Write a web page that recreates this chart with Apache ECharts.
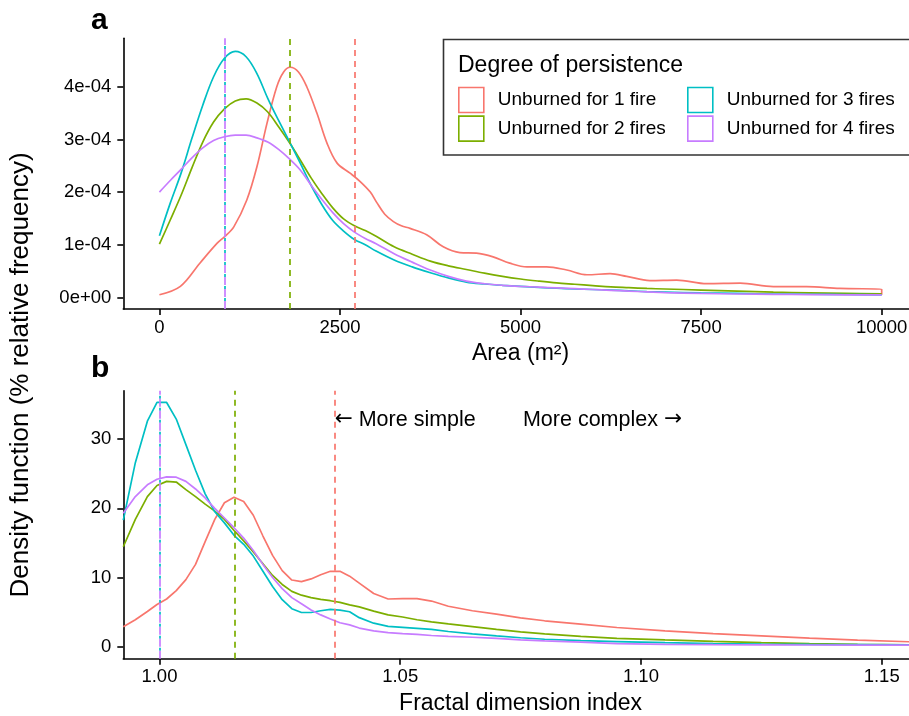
<!DOCTYPE html>
<html><head><meta charset="utf-8">
<script src="https://cdn.jsdelivr.net/npm/echarts@6/dist/echarts.min.js"></script>
<style>html,body{margin:0;padding:0;background:#fff}#chart{width:909px;height:716px}</style>
</head><body><div id="chart"></div>
<script>
// ---------- data ----------
const groups = ['Unburned for 1 fire', 'Unburned for 2 fires', 'Unburned for 3 fires', 'Unburned for 4 fires'];
const colors = ['#F8766D', '#7CAE00', '#00BFC4', '#C77CFF'];

// panel a: density of patch area (values in units of 1e-4)
const densityUnit = 1e-4;
const areaX = [0,150,300,450,600,750,900,1050,1200,1350,1500,1650,1800,1950,2100,2250,2400,2550,2700,2850,3000,3250,3500,3750,4000,4250,4500,4750,5000,5250,5500,5750,6000,6250,6500,6750,7000,7500,8000,8500,9000,9500,10000];
const areaGreen = [1.01,1.47,1.94,2.46,2.95,3.33,3.58,3.73,3.77,3.69,3.52,3.24,2.94,2.61,2.27,1.97,1.70,1.49,1.36,1.27,1.16,0.96,0.82,0.69,0.60,0.53,0.46,0.40,0.35,0.31,0.275,0.25,0.225,0.20,0.185,0.17,0.16,0.14,0.12,0.10,0.088,0.077,0.066];
const areaCyan = [1.17,1.79,2.36,3.02,3.65,4.19,4.54,4.67,4.57,4.25,3.78,3.36,2.96,2.55,2.13,1.76,1.46,1.26,1.10,1.00,0.88,0.71,0.58,0.47,0.37,0.29,0.255,0.23,0.21,0.19,0.175,0.16,0.15,0.14,0.125,0.11,0.10,0.085,0.075,0.065,0.06,0.055,0.05];
const areaPurple = [2.0,2.22,2.43,2.65,2.84,2.98,3.05,3.08,3.08,3.03,2.95,2.81,2.63,2.42,2.13,1.86,1.61,1.40,1.24,1.12,1.02,0.83,0.67,0.52,0.40,0.31,0.26,0.23,0.21,0.195,0.18,0.165,0.15,0.135,0.12,0.105,0.09,0.075,0.065,0.058,0.054,0.05,0.05];
const areaXRed = [0,290,560,800,900,1030,1210,1350,1490,1625,1720,1810,1925,2040,2180,2320,2460,2640,2780,2920,3010,3120,3240,3350,3470,3700,3930,4160,4390,4620,4850,5090,5360,5640,5920,6240,6470,6790,7160,7580,8040,8500,8960,9420,10000,10000];
const areaRed = [0.05,0.21,0.65,1.03,1.15,1.34,1.85,2.48,3.31,4.00,4.28,4.37,4.28,4.00,3.50,2.93,2.55,2.36,2.20,2.00,1.80,1.58,1.44,1.36,1.31,1.19,0.96,0.85,0.84,0.77,0.65,0.58,0.58,0.52,0.43,0.45,0.40,0.32,0.33,0.26,0.27,0.205,0.205,0.17,0.155,0.05];
const areaMeans = [2700, 1800, 900, 900];

// panel b: density of fractal dimension index (%)
const fdiX = [0.9925,0.9950,0.9975,0.9995,1.0015,1.0035,1.0055,1.0075,1.0095,1.0115,1.0135,1.0155,1.0175,1.0195,1.0215,1.0235,1.0255,1.0275,1.0295,1.0315,1.0335,1.0355,1.0375,1.0395,1.0415,1.0445,1.0475,1.0505,1.0535,1.0565,1.0600,1.0650,1.0700,1.0750,1.0800,1.0875,1.0950,1.1050,1.1150,1.1250,1.1350,1.1450,1.1575];
const fdiRed = [2.9,3.9,5.1,6.1,6.9,8.1,9.7,11.9,15.2,18.4,20.8,21.6,21.0,19.0,16.0,13.2,11.0,9.64,9.4,9.8,10.4,10.9,10.9,10.2,9.2,7.7,6.9,6.95,6.95,6.6,5.85,5.2,4.7,4.18,3.75,3.27,2.78,2.28,1.90,1.58,1.25,0.95,0.68];
const fdiGreen = [14.45,18.4,21.7,23.3,23.9,23.8,22.7,21.7,20.6,19.6,18.4,16.8,15.3,13.7,12.0,10.3,9.0,8.0,7.45,7.1,6.85,6.65,6.4,6.05,5.75,5.15,4.6,4.3,3.9,3.6,3.3,2.9,2.5,2.16,1.85,1.5,1.22,0.98,0.78,0.6,0.45,0.34,0.24];
const fdiCyan = [18.3,26.6,32.6,35.3,35.3,32.9,29.2,25.5,22.1,19.5,17.9,16.1,14.8,13.1,10.9,8.7,6.8,5.5,4.95,4.95,5.2,5.4,5.3,5.06,4.2,3.4,2.95,2.8,2.65,2.5,2.2,1.85,1.56,1.30,1.08,0.88,0.75,0.58,0.46,0.38,0.33,0.29,0.26];
const fdiPurple = [19.3,21.7,23.4,24.2,24.55,24.5,23.9,22.8,21.5,20.0,18.6,17.2,15.7,13.9,11.9,10.0,8.4,7.1,6.2,5.3,4.6,4.0,3.47,3.15,2.7,2.3,2.05,1.88,1.78,1.62,1.5,1.37,1.2,1.0,0.85,0.67,0.45,0.34,0.3,0.27,0.25,0.24,0.23];
const fdiMeans = [1.0364, 1.0157, 1.0000, 1.0000];

// annotations (panel b)
const annotX = [1.0364, 1.0755];
const annotY = [32.8, 32.8];
const annotText = ['{arr|\u2190} More simple', 'More complex {arr|\u2192}'];

// tick values / labels
const areaTicks = [0, 2500, 5000, 7500, 10000];
const areaTickLabels = ['0', '2500', '5000', '7500', '10000'];
const densityTicks = [0, 1e-4, 2e-4, 3e-4, 4e-4];
const densityTickLabels = ['0e+00', '1e-04', '2e-04', '3e-04', '4e-04'];
const fdiTicks = [1.00, 1.05, 1.10, 1.15];
const fdiTickLabels = ['1.00', '1.05', '1.10', '1.15'];
const pctTicks = [0, 10, 20, 30];
const pctTickLabels = ['0', '10', '20', '30'];

// ---------- chart ----------
const FONT = "'Liberation Sans', Arial, Helvetica, sans-serif";
const chart = echarts.init(document.getElementById('chart'), null, {renderer: 'canvas'});

function labelFor(ticks, labels) {
  return function (v) {
    let best = 0;
    for (let i = 1; i < ticks.length; i++) if (Math.abs(ticks[i] - v) < Math.abs(ticks[best] - v)) best = i;
    return labels[best];
  };
}
const axisLineStyle = {color: '#000', width: 1.6};
function xAxisCfg(gridIndex, min, max, ticks, labels, name) {
  return {
    type: 'value', gridIndex, min, max,
    axisLine: {show: true, onZero: false, lineStyle: axisLineStyle},
    axisTick: {show: true, length: 6, customValues: ticks, lineStyle: axisLineStyle},
    axisLabel: {customValues: ticks, formatter: labelFor(ticks, labels), fontSize: 18.5, color: '#000', margin: 9, fontFamily: FONT},
    splitLine: {show: false},
    name, nameLocation: 'middle', nameGap: 33,
    nameTextStyle: {fontSize: 23, color: '#000', fontFamily: FONT}
  };
}
function yAxisCfg(gridIndex, min, max, ticks, labels) {
  return {
    type: 'value', gridIndex, min, max,
    axisLine: {show: true, onZero: false, lineStyle: axisLineStyle},
    axisTick: {show: true, length: 6, customValues: ticks, lineStyle: axisLineStyle},
    axisLabel: {customValues: ticks, formatter: labelFor(ticks, labels), fontSize: 18.5, color: '#000', margin: 12, fontFamily: FONT},
    splitLine: {show: false}
  };
}

const areaSeriesY = [null, areaGreen, areaCyan, areaPurple];
const fdiSeriesY = [fdiRed, fdiGreen, fdiCyan, fdiPurple];
const meanDash = [
  {type: [6, 5], dashOffset: 0},
  {type: [6, 5], dashOffset: 0},
  {type: [3, 9], dashOffset: -8},
  {type: [8, 4], dashOffset: 0}
];
function meanLine(k, value) {
  return {
    silent: true, symbol: ['none', 'none'], label: {show: false}, precision: 8,
    lineStyle: Object.assign({color: colors[k], width: 1.7}, meanDash[k]),
    emphasis: {disabled: true},
    data: [{xAxis: value}]
  };
}

const series = [];
groups.forEach((g, k) => {
  let data;
  if (k === 0) data = areaXRed.map((x, i) => [x, areaRed[i] * densityUnit]);
  else data = areaX.map((x, i) => [x, areaSeriesY[k][i] * densityUnit]);
  series.push({
    name: g, type: 'line', xAxisIndex: 0, yAxisIndex: 0, data,
    showSymbol: false, smooth: 0.35, color: colors[k],
    lineStyle: {width: 1.7, color: colors[k]},
    silent: true, z: 2,
    markLine: meanLine(k, areaMeans[k])
  });
});
groups.forEach((g, k) => {
  series.push({
    name: g, type: 'line', xAxisIndex: 1, yAxisIndex: 1,
    data: fdiX.map((x, i) => [x, fdiSeriesY[k][i]]),
    showSymbol: false, smooth: false, color: colors[k],
    lineStyle: {width: 1.7, color: colors[k]},
    silent: true, z: 2,
    markLine: meanLine(k, fdiMeans[k])
  });
});
series.push({
  type: 'scatter', xAxisIndex: 1, yAxisIndex: 1, silent: true,
  symbolSize: 0, itemStyle: {opacity: 1, color: '#000'},
  data: annotX.map((x, i) => [x, annotY[i]]),
  label: {
    show: true, position: 'inside', align: 'left', verticalAlign: 'middle', opacity: 1,
    fontSize: 21.5, color: '#000', fontFamily: FONT, textBorderWidth: 0,
    rich: {arr: {fontFamily: "'DejaVu Sans', sans-serif", fontSize: 21.5, color: '#000', textBorderWidth: 0}},
    formatter: p => annotText[p.dataIndex]
  },
  emphasis: {disabled: true}
});

const legendCommon = {
  orient: 'vertical', top: 86.7, padding: 0, itemWidth: 25, itemHeight: 25, itemGap: 2,
  icon: 'rect', selectedMode: false,
  itemStyle: {color: '#ffffff', borderWidth: 1.6},
  textStyle: {fontSize: 19, color: '#000', fontFamily: FONT, padding: [0, 0, 0, 9]}
};
const legendItem = k => ({name: groups[k], itemStyle: {color: '#ffffff', borderColor: colors[k], borderWidth: 1.6}});

const option = {
  animation: false,
  backgroundColor: '#ffffff',
  textStyle: {fontFamily: FONT},
  grid: [
    {left: 123.3, top: 38.3, width: 794.5, height: 270.7, outerBoundsMode: 'none', containLabel: false},
    {left: 123.3, top: 390.7, width: 794.5, height: 268, outerBoundsMode: 'none', containLabel: false}
  ],
  xAxis: [
    xAxisCfg(0, -500, 10500, areaTicks, areaTickLabels, 'Area (m\u00B2)'),
    xAxisCfg(1, 0.9925, 1.1575, fdiTicks, fdiTickLabels, 'Fractal dimension index')
  ],
  yAxis: [
    yAxisCfg(0, -0.22e-4, 4.92e-4, densityTicks, densityTickLabels),
    yAxisCfg(1, -1.73, 37.0, pctTicks, pctTickLabels)
  ],
  title: [
    {text: 'a', left: 91, top: 6, padding: 0, textStyle: {fontSize: 30, fontWeight: 'bold', color: '#000', fontFamily: FONT}},
    {text: 'b', left: 91, top: 354, padding: 0, textStyle: {fontSize: 30, fontWeight: 'bold', color: '#000', fontFamily: FONT}},
    {text: 'Degree of persistence', left: 458, top: 54, padding: 0, textStyle: {fontSize: 23, fontWeight: 'normal', color: '#000', fontFamily: FONT}}
  ],
  legend: [
    Object.assign({}, legendCommon, {left: 458, data: [legendItem(0), legendItem(1)]}),
    Object.assign({}, legendCommon, {left: 687, data: [legendItem(2), legendItem(3)]})
  ],
  graphic: [
    {type: 'rect', z: 3, shape: {x: 443.5, y: 39.5, width: 480, height: 115.5},
     style: {fill: '#ffffff', stroke: '#333333', lineWidth: 1.6}},
    {type: 'text', x: 20.5, y: 375, rotation: Math.PI / 2,
     style: {text: 'Density function (% relative frequency)', fontSize: 26, fill: '#000',
             align: 'center', verticalAlign: 'middle', fontFamily: FONT}}
  ],
  series
};
chart.setOption(option);
</script></body></html>
